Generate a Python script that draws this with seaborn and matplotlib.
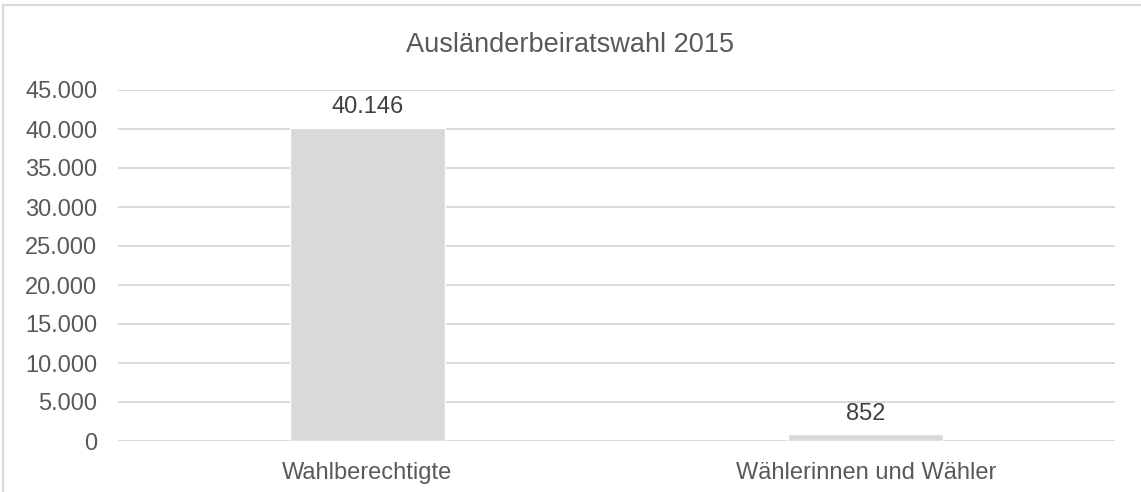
import matplotlib.pyplot as plt
import matplotlib.patches as mpatches
import seaborn as sns
import pandas as pd

# Data
categories = ['Wahlberechtigte', 'Wählerinnen und Wähler']
values = [40146, 852]
value_labels = ['40.146', '852']
y_ticks = [0, 5000, 10000, 15000, 20000, 25000, 30000, 35000, 40000, 45000]
y_tick_labels = ['0', '5.000', '10.000', '15.000', '20.000', '25.000',
                 '30.000', '35.000', '40.000', '45.000']
title = 'Ausländerbeiratswahl 2015'

df = pd.DataFrame({'category': categories, 'value': values})

sns.set_style('white')
plt.rcParams['font.family'] = ['Liberation Sans', 'DejaVu Sans']

fig = plt.figure(figsize=(11.41, 4.92), dpi=100)
ax = fig.add_axes([118 / 1141, 1 - 441 / 492, 997 / 1141, 351 / 492])

sns.barplot(data=df, x='category', y='value', color='#d9d9d9', width=0.31,
            saturation=1, ax=ax, zorder=3)

ax.set_ylim(0, 45000)
ax.set_yticks(y_ticks)
ax.set_yticklabels(y_tick_labels)
ax.yaxis.grid(True, color='#d9d9d9', linewidth=1.4, zorder=0)
ax.set_axisbelow(True)
for s in ax.spines.values():
    s.set_visible(False)
ax.axhline(0, color='#d9d9d9', linewidth=1.4, zorder=2)
ax.tick_params(axis='both', length=0, labelsize=17, colors='#595959')
ax.tick_params(axis='y', pad=15)
ax.tick_params(axis='x', pad=15)
ax.set_xlabel('')
ax.set_ylabel('')

for p, lab in zip(ax.patches, value_labels):
    ax.annotate(lab, (p.get_x() + p.get_width() / 2, p.get_height()),
                xytext=(0, 7), textcoords='offset points',
                ha='center', va='bottom', fontsize=17, color='#404040')

fig.text(570 / 1141, 1 - 45 / 492, title, ha='center', va='center',
         fontsize=19.5, color='#595959')

# outer chart border (cut off at right and bottom)
fig.patches.append(mpatches.Rectangle((3 / 1141, -0.1), 1.2, 0.1 + 1 - 5 / 492,
                                      transform=fig.transFigure, fill=False,
                                      edgecolor='#d9d9d9', linewidth=1.5))

fig.savefig('out.png', dpi=100)
